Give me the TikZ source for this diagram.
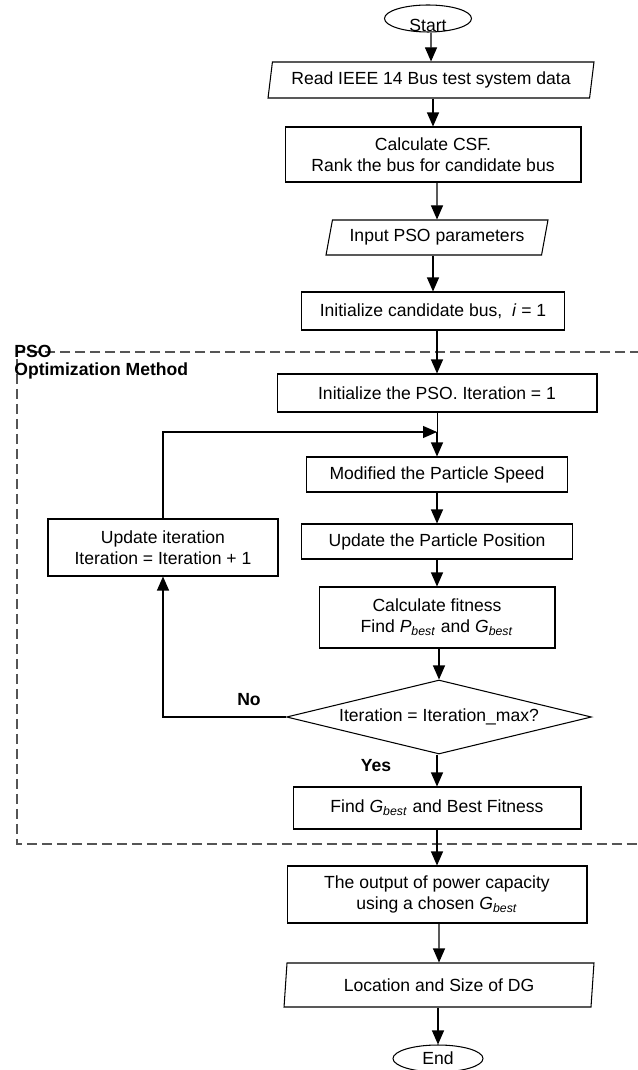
\documentclass[tikz,border=0pt]{standalone}
\usepackage{fontspec}
\setmainfont{Liberation Sans}
\usepackage{xcolor}
\definecolor{gray-600}{RGB}{85,85,85}
\usepackage{tikz}
\usetikzlibrary{shapes.geometric,arrows.meta}

\newcommand{\bestsub}[1]{\textit{#1}\textsubscript{\textit{best}}}

\begin{document}
\begin{tikzpicture}[
    x=0.02cm, y=-0.02cm,
    every node/.style={inner sep=0pt, font=\fontsize{10pt}{12pt}\selectfont},
    box/.style={draw, line width=0.6pt, align=center},
    io/.style={draw, line width=0.6pt, trapezium, trapezium stretches body},
    term/.style={draw, line width=0.6pt, ellipse},
    arr/.style={-{Triangle[length=0.28cm, width=0.24cm]}, line width=0.6pt},
    tag/.style={font=\fontsize{10pt}{10.3pt}\selectfont\bfseries}
]

\useasboundingbox (0,0) rectangle (637,1070);

% Start and system data
\node[term, minimum width=1.74cm, minimum height=0.54cm] (start) at (428,18.5)
    {\smash{\raisebox{-0.27cm}{Start}}};
\node[io, trapezium left angle=75, trapezium right angle=105,
    minimum width=6.52cm, minimum height=0.72cm] (readdata) at (431,80)
    {Read IEEE 14 Bus test system data};
\node[box, minimum width=5.92cm, minimum height=1.10cm] (calccsf) at (433,154.5)
    {Calculate CSF.\\Rank the bus for candidate bus};
\node[io, trapezium left angle=68, trapezium right angle=112,
    minimum width=4.44cm, minimum height=0.70cm] (inputpso) at (437,237.5)
    {Input PSO parameters};
\node[box, minimum width=5.26cm, minimum height=0.76cm] (initcand) at (433,311)
    {Initialize candidate bus,\ \ \textit{i} = 1};

% PSO frame
\draw[gray-600, line width=0.6pt, dash pattern=on 0.2cm off 0.1cm]
    (640,352) -- (17,352) -- (17,844) -- (640,844);
\node[tag, align=left, anchor=north west] (psolabel) at (14,345)
    {PSO\\Optimization Method};

% PSO loop
\node[box, minimum width=6.40cm, minimum height=0.76cm] (initpso) at (437,393)
    {Initialize the PSO. Iteration = 1};
\coordinate (join) at (437,432);
\node[box, minimum width=5.22cm, minimum height=0.70cm] (modified) at (437,474.5)
    {Modified the Particle Speed};
\node[box, minimum width=5.42cm, minimum height=0.70cm] (updatepos) at (437,541.5)
    {Update the Particle Position};
\node[box, minimum width=4.72cm, minimum height=1.22cm] (calcfit) at (437,617.5)
    {Calculate fitness\\Find \bestsub{P} and \bestsub{G}};
\node[draw, line width=0.6pt, diamond, aspect=4.12, minimum width=6.10cm, minimum height=1.48cm]
    (maxiter) at (439,717) {Iteration = Iteration\_max?};
\node[box, minimum width=4.60cm, minimum height=1.14cm] (updateiter) at (163,547.5)
    {Update iteration\\Iteration = Iteration + 1};
\node[box, minimum width=5.76cm, minimum height=0.84cm] (findg) at (437,808)
    {Find \bestsub{G} and Best Fitness};

% Decision labels
\node[tag] (nolbl) at (249,700) {No};
\node[tag] (yeslbl) at (376,766) {Yes};

% Output
\node[box, minimum width=6.00cm, minimum height=1.14cm] (output) at (437,894.5)
    {The output of power capacity\\using a chosen \bestsub{G}};
\node[io, trapezium left angle=77, trapezium right angle=103,
    minimum width=6.20cm, minimum height=0.88cm] (location) at (439,985)
    {Location and Size of DG};
\node[term, minimum width=1.80cm, minimum height=0.54cm] (end) at (438,1058.5) {End};

% Connectors
\draw[arr] (start.south -| readdata) -- (readdata.north);
\draw[arr] (readdata.south -| calccsf) -- (calccsf.north);
\draw[arr] (calccsf.south -| inputpso) -- (inputpso.north);
\draw[arr] (inputpso.south -| initcand) -- (initcand.north);
\draw[arr] (initcand.south -| initpso) -- (initpso.north);
\draw (initpso.south) -- (join);
\draw[arr] (join) -- (modified.north);
\draw[arr] (modified.south) -- (updatepos.north);
\draw[arr] (updatepos.south) -- (calcfit.north);
\draw[arr] (calcfit.south -| maxiter) -- (maxiter.north);
\draw[arr] (maxiter.south -| findg) -- (findg.north);
\draw[arr] (maxiter.west) -- (maxiter.west -| updateiter) -- (updateiter.south);
\draw[arr] (updateiter.north) |- (join);
\draw[arr] (findg.south -| output) -- (output.north);
\draw[arr] (output.south -| location) -- (location.north);
\draw[arr] (location.south -| end) -- (end.north);

\end{tikzpicture}
\end{document}
